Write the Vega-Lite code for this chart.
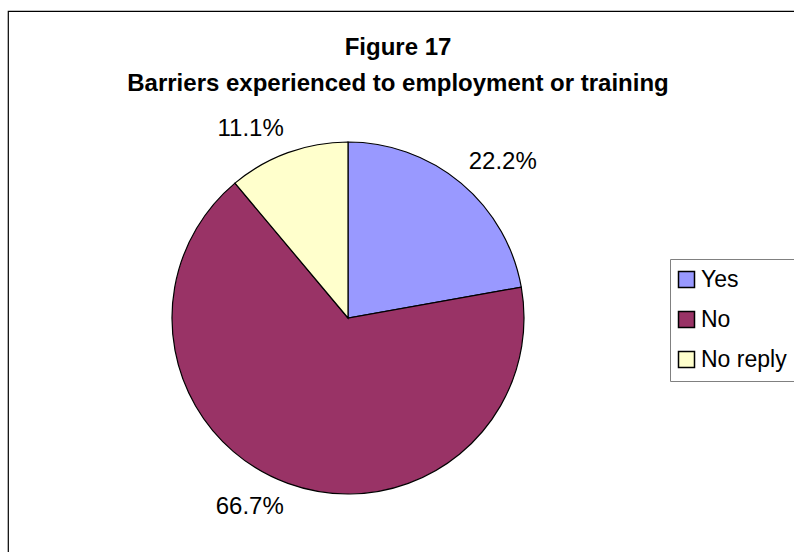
{
  "$schema": "https://vega.github.io/schema/vega-lite/v6.json",
  "width": 790,
  "height": 545,
  "autosize": "none",
  "padding": {"left": 8, "top": 11, "right": -4, "bottom": -4},
  "background": "white",
  "view": {"stroke": "black", "strokeWidth": 1.2, "fill": "white"},
  "config": {
    "view": {"stroke": "black", "strokeWidth": 1.2, "fill": "white"},
    "style": {"view": {"stroke": "black", "strokeWidth": 1.2, "fill": "white"}},
    "font": "Liberation Sans"
  },
  "title": {
    "text": ["Figure 17", "Barriers experienced to employment or training"],
    "anchor": "middle",
    "frame": "group",
    "font": "Liberation Sans",
    "fontSize": 24,
    "fontWeight": "bold",
    "color": "black",
    "baseline": "alphabetic",
    "lineHeight": 36,
    "offset": -104,
    "dx": -5
  },
  "data": {
    "values": [
      {"answer": "Yes", "share": 0.222, "rank": 1},
      {"answer": "No", "share": 0.667, "rank": 2},
      {"answer": "No reply", "share": 0.111, "rank": 3}
    ]
  },
  "encoding": {
    "theta": {"field": "share", "type": "quantitative", "stack": true},
    "order": {"field": "rank", "type": "ordinal"}
  },
  "layer": [
    {
      "mark": {"type": "arc", "outerRadius": 176, "stroke": "black", "strokeWidth": 1.2, "x": 340, "y": 307},
      "encoding": {
        "color": {
          "field": "answer",
          "type": "nominal",
          "sort": ["Yes", "No", "No reply"],
          "scale": {"domain": ["Yes", "No", "No reply"], "range": ["#9999FF", "#993366", "#FFFFCC"]},
          "legend": {
            "title": null,
            "orient": "none",
            "legendX": 662,
            "legendY": 248,
            "direction": "vertical",
            "symbolType": "square",
            "symbolSize": 256,
            "symbolOffset": -4,
            "symbolStrokeColor": "black",
            "symbolStrokeWidth": 1.5,
            "labelFont": "Liberation Sans",
            "labelFontSize": 23,
            "labelColor": "black",
            "labelOffset": 3,
            "rowPadding": 16,
            "padding": 9,
            "strokeColor": "#808080",
            "fillColor": "white"
          }
        }
      }
    },
    {
      "mark": {
        "type": "text",
        "radius": 188,
        "x": 340,
        "y": 307,
        "font": "Liberation Sans",
        "fontSize": 24,
        "color": "black",
        "align": {"expr": "datum.answer === 'Yes' ? 'left' : 'right'"},
        "baseline": {"expr": "datum.answer === 'No' ? 'top' : 'bottom'"}
      },
      "encoding": {
        "text": {"field": "share", "type": "quantitative", "format": ".1%"}
      }
    }
  ]
}
